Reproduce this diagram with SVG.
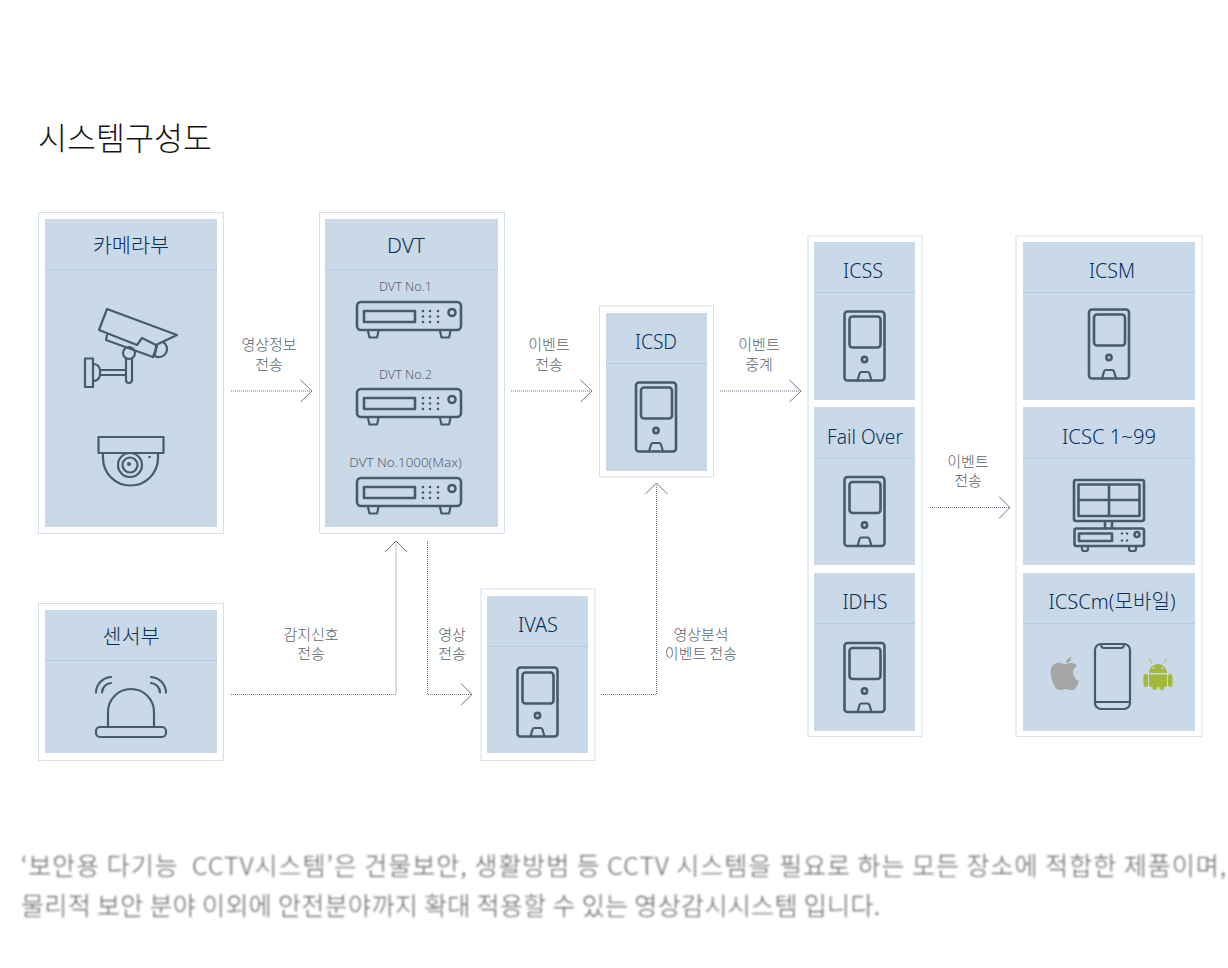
<svg xmlns="http://www.w3.org/2000/svg" width="1228" height="968" viewBox="0 0 1228 968">
<style>
text{font-family:"Noto Sans","Noto Sans CJK KR","Liberation Sans",sans-serif;font-weight:300;text-anchor:middle}
.ko{font-family:"Noto Sans CJK KR","Noto Sans",sans-serif}
.outer{fill:#fff;stroke:#d3e0ed;stroke-width:1}
.inner{fill:#c9d9e8}
.div{stroke:#b5cbdf;stroke-width:1;fill:none}
.ttl{font-size:20.8px;fill:#08305c}
.sub{font-size:13.4px;fill:#56626e}
.lab{font-size:15px;fill:#59636e}
.ic{fill:none;stroke:#475b6c;stroke-width:2.2;stroke-linejoin:round;stroke-linecap:round}
.ict{fill:none;stroke:#475b6c;stroke-width:2.6;stroke-linejoin:round}
.dot{fill:#475b6c}
.conn{fill:none;stroke:#6f7b88;stroke-width:1;stroke-dasharray:1 1}
.head{fill:none;stroke:#5d6976;stroke-width:.9}
.body{font-size:25px;fill:#5c5c5c;text-anchor:start;filter:url(#soft);white-space:pre}
</style>
<defs>
<filter id="soft" x="-2%" y="-20%" width="104%" height="140%"><feGaussianBlur stdDeviation="0.8"/></filter>
<g id="device">
<rect x="1" y="1" width="40" height="69" rx="3" class="ict"/>
<rect x="6" y="6" width="31" height="31" rx="3" class="ict"/>
<circle cx="21" cy="49" r="2.600" class="ict"/>
<path d="M14,70 L16,63 Q16.500,61.500 18,61.500 H24 Q25.500,61.500 26,63 L28,70" class="ic"/>
</g>
<g id="dvr">
<rect x="1" y="1" width="104" height="28" rx="4" class="ict"/>
<rect x="8" y="10" width="51" height="11" class="ict"/>
<path d="M12,30 L13.500,36.500 H21 L22.500,30 M84,30 L85.500,36.500 H93 L94.500,30" class="ic"/>
<g class="dot">
<circle cx="67" cy="10" r="1.300"/><circle cx="74" cy="10" r="1.300"/><circle cx="82" cy="10" r="1.300"/>
<circle cx="67" cy="15.500" r="1.300"/><circle cx="74" cy="15.500" r="1.300"/><circle cx="82" cy="15.500" r="1.300"/>
<circle cx="67" cy="21" r="1.300"/><circle cx="74" cy="21" r="1.300"/><circle cx="82" cy="21" r="1.300"/>
</g>
<circle cx="96" cy="11.500" r="3.500" class="ict"/>
</g>
</defs>

<text class="ko" x="125" y="150" style="font-size:31.5px;fill:#151515">시스템구성도</text>

<g id="camera-node">
<rect class="outer" x="38.500" y="212.500" width="185" height="321"/>
<rect class="inner" x="45" y="219" width="172" height="308"/>
<path class="div" d="M45,269.500H217"/>
<text class="ttl ko" x="131" y="253">카메라부</text>
<path class="ic" d="M107,309 L177,335 L156,345 L142,338 L137,345 L99,330 Z"/>
<path class="ic" d="M107,335 L106,340 L153,357 L157,346"/>
<path class="ic" d="M153,357 Q156,355 156,345 M163,342 A8,8 0 0 1 155,356"/>
<circle class="ic" cx="129" cy="353" r="6"/>
<path class="ic" d="M126,359 V380 A3,3 0 0 0 132,380 V359"/>
<rect class="ic" x="85" y="358.500" width="8" height="28.500"/>
<path class="ic" d="M93,364 Q99,364 100,370 H126 M100,375 H126 M93,381 Q99,381 100,375 V370"/>
<rect class="ic" x="98.500" y="437" width="65" height="16"/>
<path class="ic" d="M103,453 V458 A27,27 0 0 0 158,458 V453"/>
<circle class="ic" cx="130" cy="465" r="12"/>
<circle class="ic" cx="130" cy="465" r="7.500"/>
<circle class="dot" cx="129" cy="464" r="2"/>
<circle class="dot" cx="149.500" cy="457" r="1.300"/>
</g>

<g id="dvt-node">
<rect class="outer" x="319.500" y="212.500" width="185" height="321"/>
<rect class="inner" x="325" y="219" width="173" height="308"/>
<path class="div" d="M325,269.500H498"/>
<text class="ttl" x="406" y="253" textLength="38" lengthAdjust="spacingAndGlyphs">DVT</text>
<text class="sub" x="405.500" y="291" textLength="53" lengthAdjust="spacingAndGlyphs">DVT No.1</text>
<use href="#dvr" x="356" y="301"/>
<text class="sub" x="405.500" y="379" textLength="53" lengthAdjust="spacingAndGlyphs">DVT No.2</text>
<use href="#dvr" x="356" y="388"/>
<text class="sub" x="405.500" y="467">DVT No.1000(Max)</text>
<use href="#dvr" x="356" y="477"/>
</g>

<g id="sensor-node">
<rect class="outer" x="38.500" y="603.500" width="185" height="157"/>
<rect class="inner" x="45" y="610" width="172" height="143"/>
<path class="div" d="M45,660.500H217"/>
<text class="ttl ko" x="131" y="644">센서부</text>
<rect class="ic" x="96" y="727" width="70" height="10" rx="4"/>
<path class="ic" d="M108,727 V712 A23,23 0 0 1 154,712 V727"/>
<path class="ic" d="M96,692.500 A16,16 0 0 1 111,677 M102,692.500 A10,10 0 0 1 111,683 M166,692.500 A16,16 0 0 0 151,677 M160,692.500 A10,10 0 0 0 151,683"/>
</g>

<g id="ivas-node">
<rect class="outer" x="481" y="589" width="114" height="171.500"/>
<rect class="inner" x="487" y="596" width="101" height="157"/>
<path class="div" d="M487,646.500H588"/>
<text class="ttl" x="538" y="632" textLength="40" lengthAdjust="spacingAndGlyphs">IVAS</text>
<use href="#device" x="516.500" y="666.500"/>
</g>

<g id="icsd-node">
<rect class="outer" x="599.500" y="306" width="114" height="171"/>
<rect class="inner" x="606" y="313" width="101" height="158"/>
<path class="div" d="M606,363.500H707"/>
<text class="ttl" x="656" y="349" textLength="42" lengthAdjust="spacingAndGlyphs">ICSD</text>
<use href="#device" x="635" y="381.500"/>
</g>

<g id="server-group">
<rect class="outer" x="808" y="236" width="114" height="500.500"/>
<g id="icss-node">
<rect class="inner" x="814" y="242" width="101" height="158"/>
<path class="div" d="M814,292.500H915"/>
<text class="ttl" x="863" y="278" textLength="40" lengthAdjust="spacingAndGlyphs">ICSS</text>
<use href="#device" x="843.500" y="310.500"/>
</g>
<g id="failover-node">
<rect class="inner" x="814" y="407" width="101" height="158"/>
<path class="div" d="M814,458.500H915"/>
<text class="ttl" x="865" y="444" textLength="76" lengthAdjust="spacingAndGlyphs">Fail Over</text>
<use href="#device" x="843.500" y="476"/>
</g>
<g id="idhs-node">
<rect class="inner" x="814" y="573" width="101" height="158"/>
<path class="div" d="M814,623.500H915"/>
<text class="ttl" x="865" y="609" textLength="45" lengthAdjust="spacingAndGlyphs">IDHS</text>
<use href="#device" x="843.500" y="642"/>
</g>
</g>

<g id="client-group">
<rect class="outer" x="1016" y="236" width="186" height="500.500"/>
<g id="icsm-node">
<rect class="inner" x="1023" y="242" width="172" height="158"/>
<path class="div" d="M1023,292.500H1195"/>
<text class="ttl" x="1112" y="278" textLength="46" lengthAdjust="spacingAndGlyphs">ICSM</text>
<use href="#device" x="1088" y="308.500"/>
</g>
<g id="icsc-node">
<rect class="inner" x="1023" y="407" width="172" height="158"/>
<path class="div" d="M1023,458.500H1195"/>
<text class="ttl" x="1109" y="444" textLength="94" lengthAdjust="spacingAndGlyphs">ICSC 1~99</text>
<rect class="ict" x="1074" y="480" width="70" height="41" rx="2"/>
<rect class="ict" x="1078.500" y="484.500" width="61" height="31.500"/>
<path class="ict" d="M1109,484V516M1078,500H1140M1105,521V528M1112,521V528"/>
<rect class="ict" x="1074.500" y="528.500" width="69.500" height="17.500" rx="2"/>
<rect class="ict" x="1079" y="533.500" width="33" height="7.500"/>
<g class="dot"><circle cx="1122" cy="533.500" r="1.200"/><circle cx="1127" cy="533.500" r="1.200"/><circle cx="1122" cy="540.500" r="1.200"/><circle cx="1127" cy="540.500" r="1.200"/></g>
<circle class="ict" cx="1137" cy="534.500" r="2.500"/>
<path class="ic" d="M1082,546 V549 Q1082,551 1084,551 H1086 Q1088,551 1088,549 V546 M1129,546 V549 Q1129,551 1131,551 H1134 Q1136,551 1136,549 V546"/>
</g>
<g id="icscm-node">
<rect class="inner" x="1023" y="573" width="172" height="158"/>
<path class="div" d="M1023,623.500H1195"/>
<text class="ttl" x="1112" y="609" textLength="127" lengthAdjust="spacingAndGlyphs"><tspan>ICSCm(</tspan><tspan class="ko">모바일</tspan><tspan>)</tspan></text>
<rect class="ic" x="1095" y="644" width="35" height="65" rx="6"/>
<path class="ic" d="M1101,644 Q1101,648 1104,648 H1121 Q1124,648 1124,644 M1095,702 H1130"/>
<path fill="#a3a6a4" d="M1066,664 C1062,664 1059,662 1057,663 C1051,664 1050,671 1051,675 C1052,683 1056,691 1060,690 C1063,690 1064,689 1066,689 C1069,689 1070,691 1073,690 C1076,689 1078,684 1079,681 C1075,680 1073,675 1073,672 C1073,669 1075,667 1077,666 C1074,662 1070,663 1066,664Z M1066,663 C1066,660 1069,657 1071,657 C1072,660 1069,663 1066,663Z"/>
<g fill="#a4b83a">
<path d="M1149,673 A9,9 0 0 1 1167,673 Z"/>
<path d="M1149,674.500 H1167 V685 Q1167,687 1165,687 H1151 Q1149,687 1149,685 Z"/>
<rect x="1143.500" y="674" width="4.500" height="13" rx="2.200"/>
<rect x="1168" y="674" width="4.500" height="13" rx="2.200"/>
<rect x="1152.500" y="684" width="4.500" height="6" rx="2"/>
<rect x="1159.500" y="684" width="4.500" height="6" rx="2"/>
<path d="M1152,664 L1149.500,658 M1164,664 L1166.500,658" stroke="#a4b83a" stroke-width=".8"/>
</g>
<circle cx="1153.500" cy="668" r="1" fill="#c9d9e8"/><circle cx="1162.500" cy="668" r="1" fill="#c9d9e8"/>
</g>
</g>

<g id="connectors">
<path class="conn" d="M231,391H311"/><path class="head" d="M300.500,380 L312,391 L300.500,402"/>
<path class="conn" d="M511,391H591"/><path class="head" d="M580.500,380 L592,391 L580.500,402"/>
<path class="conn" d="M720,391H800"/><path class="head" d="M789.500,380 L801,391 L789.500,402"/>
<path class="conn" d="M930,507.500H1009"/><path class="head" d="M999,496.500 L1010,507.500 L999,518.500"/>
<path class="conn" d="M231,694.500H396V542"/><path class="head" d="M385,552 L396,541 L407,552"/>
<path class="conn" d="M427.500,541V694.500H471"/><path class="head" d="M461,683.500 L472,694.500 L461,705"/>
<path class="conn" d="M601,694.500H656.500V484"/><path class="head" d="M645.500,494 L656.500,483 L667.500,494"/>
</g>

<g id="connector-labels" class="ko">
<text class="lab ko" x="269" y="349.500">영상정보</text><text class="lab ko" x="269" y="369.500">전송</text>
<text class="lab ko" x="549" y="349.500">이벤트</text><text class="lab ko" x="549" y="369.500">전송</text>
<text class="lab ko" x="759" y="349.500">이벤트</text><text class="lab ko" x="759" y="369.500">중계</text>
<text class="lab ko" x="968" y="466.500">이벤트</text><text class="lab ko" x="968" y="485.500">전송</text>
<text class="lab ko" x="311" y="639.500">감지신호</text><text class="lab ko" x="311" y="658.500">전송</text>
<text class="lab ko" x="452" y="639.500">영상</text><text class="lab ko" x="452" y="658.500">전송</text>
<text class="lab ko" x="701" y="639.500">영상분석</text><text class="lab ko" x="701" y="658.500">이벤트 전송</text>
</g>

<g id="description" class="ko">
<text class="body ko" x="21" y="875" textLength="1205" lengthAdjust="spacing">‘보안용 다기능  CCTV시스템’은 건물보안, 생활방범 등 CCTV 시스템을 필요로 하는 모든 장소에 적합한 제품이며,</text>
<text class="body ko" x="21" y="915" textLength="859" lengthAdjust="spacing">물리적 보안 분야 이외에 안전분야까지 확대 적용할 수 있는 영상감시시스템 입니다.</text>
</g>
</svg>
